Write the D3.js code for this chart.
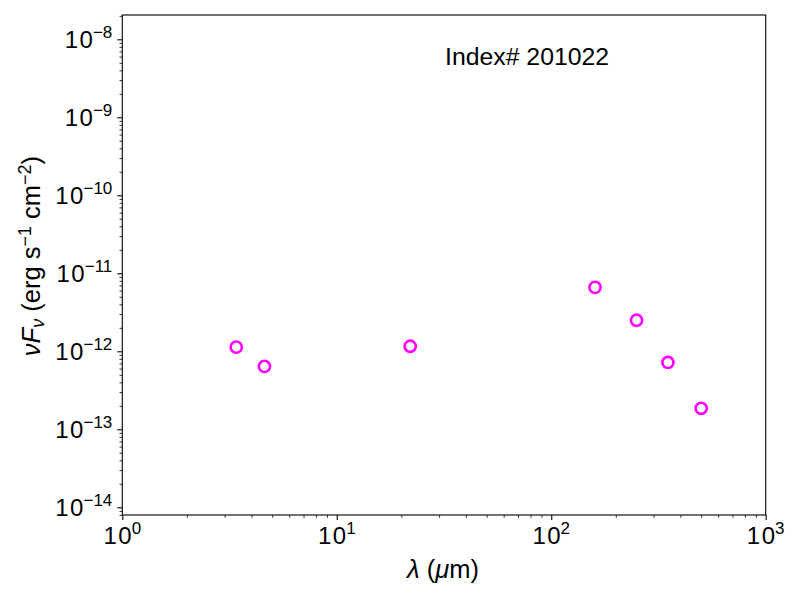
<!DOCTYPE html>
<html>
<head>
<meta charset="utf-8">
<script src="https://cdn.jsdelivr.net/npm/d3@7"></script>
<style>
  body { margin: 0; background: white; }
  text { font-family: "Liberation Sans", Arial, sans-serif; fill: black; }
</style>
</head>
<body>
<svg id="chart"></svg>
<script>
// data
const wavelengths = [3.4, 4.6, 22, 160, 250, 350, 500];          // micron
const nuFnu = [1.13e-12, 6.4e-13, 1.16e-12, 6.6e-12, 2.5e-12, 7.2e-13, 1.86e-13];
const xTickExps = [0, 1, 2, 3];
const yTickExps = [-14, -13, -12, -11, -10, -9, -8];
const titleText = "Index# 201022";

const width = 800, height = 600;
const plotLeft = 122.3, plotRight = 765.7, plotTop = 15, plotBottom = 515;

const svg = d3.select("#chart")
  .attr("width", width)
  .attr("height", height);

svg.append("rect")
  .attr("width", width)
  .attr("height", height)
  .attr("fill", "white");

const x = d3.scaleLog().domain([1, 1000]).range([plotLeft, plotRight]);
const y = d3.scaleLog()
  .domain([Math.pow(10, -14.0987), Math.pow(10, -7.6885)])
  .range([plotBottom, plotTop]);

// minor tick values (2..9 per decade)
function minors(lo, hi) {
  const out = [];
  for (let e = lo; e <= hi; e++) {
    for (let m = 2; m <= 9; m++) out.push(m * Math.pow(10, e));
  }
  return out;
}
const xMinor = minors(0, 2);
const yMinor = minors(-15, -8).filter(v => v >= y.domain()[0] && v <= y.domain()[1]);

// x axis: major + minor ticks
svg.append("g")
  .attr("transform", `translate(0,${plotBottom})`)
  .call(d3.axisBottom(x).tickValues(xTickExps.map(e => Math.pow(10, e))).tickSize(5).tickFormat(""))
  .call(g => g.select(".domain").remove())
  .selectAll("line").attr("stroke-width", 1.1);

svg.append("g")
  .attr("transform", `translate(0,${plotBottom})`)
  .call(d3.axisBottom(x).tickValues(xMinor).tickSize(2.8).tickFormat(""))
  .call(g => g.select(".domain").remove())
  .selectAll("line").attr("stroke-width", 0.8);

// y axis
svg.append("g")
  .attr("transform", `translate(${plotLeft},0)`)
  .call(d3.axisLeft(y).tickValues(yTickExps.map(e => Math.pow(10, e))).tickSize(5).tickFormat(""))
  .call(g => g.select(".domain").remove())
  .selectAll("line").attr("stroke-width", 1.1);

svg.append("g")
  .attr("transform", `translate(${plotLeft},0)`)
  .call(d3.axisLeft(y).tickValues(yMinor).tickSize(2.8).tickFormat(""))
  .call(g => g.select(".domain").remove())
  .selectAll("line").attr("stroke-width", 0.8);

// frame
svg.append("rect")
  .attr("x", plotLeft)
  .attr("y", plotTop)
  .attr("width", plotRight - plotLeft)
  .attr("height", plotBottom - plotTop)
  .attr("fill", "none")
  .attr("stroke", "black")
  .attr("stroke-width", 1.1);

// tick labels "10^n"
const xLabels = svg.selectAll(".xlab")
  .data(xTickExps)
  .enter()
  .append("text")
  .attr("class", "xlab")
  .attr("x", d => x(Math.pow(10, d)))
  .attr("y", 544)
  .attr("text-anchor", "middle")
  .attr("font-size", 24);
xLabels.append("tspan").text("1");
xLabels.append("tspan").attr("dx", 1.5).text("0");
xLabels.append("tspan").attr("dy", -10).attr("font-size", 17).text(d => d);

const yLabels = svg.selectAll(".ylab")
  .data(yTickExps)
  .enter()
  .append("text")
  .attr("class", "ylab")
  .attr("x", plotLeft - 10)
  .attr("y", d => y(Math.pow(10, d)) + 8.6)
  .attr("text-anchor", "end")
  .attr("font-size", 24);
yLabels.append("tspan").text("1");
yLabels.append("tspan").attr("dx", 1.5).text("0");
yLabels.append("tspan").attr("dy", -10).attr("font-size", 17).text(d => "\u2212" + Math.abs(d));

// axis titles
const xTitle = svg.append("text")
  .attr("x", 443)
  .attr("y", 578)
  .attr("text-anchor", "middle")
  .attr("font-size", 25.5);
xTitle.append("tspan").attr("font-style", "italic").text("\u03bb");
xTitle.append("tspan").text(" (");
xTitle.append("tspan").attr("font-style", "italic").text("\u03bc");
xTitle.append("tspan").text("m)");

const yTitle = svg.append("text")
  .attr("transform", `translate(40,256) rotate(-90)`)
  .attr("text-anchor", "middle")
  .attr("font-size", 25.5);
yTitle.append("tspan").attr("font-style", "italic").text("\u03bdF");
yTitle.append("tspan").attr("font-style", "italic").attr("font-size", 18).attr("dy", 4).text("\u03bd");
yTitle.append("tspan").attr("dy", -4).text(" (erg s");
yTitle.append("tspan").attr("font-size", 18).attr("dy", -9).text("\u22121");
yTitle.append("tspan").attr("dy", 9).text(" cm");
yTitle.append("tspan").attr("font-size", 18).attr("dy", -9).text("\u22122");
yTitle.append("tspan").attr("dy", 9).text(")");

// annotation
svg.append("text")
  .attr("x", 445)
  .attr("y", 65)
  .attr("font-size", 24.8)
  .text(titleText);

// data points
svg.selectAll(".pt")
  .data(wavelengths.map((w, i) => ({ w: w, f: nuFnu[i] })))
  .enter()
  .append("circle")
  .attr("class", "pt")
  .attr("cx", d => x(d.w))
  .attr("cy", d => y(d.f))
  .attr("r", 5.6)
  .attr("fill", "none")
  .attr("stroke", "magenta")
  .attr("stroke-width", 2.6);
</script>
</body>
</html>
